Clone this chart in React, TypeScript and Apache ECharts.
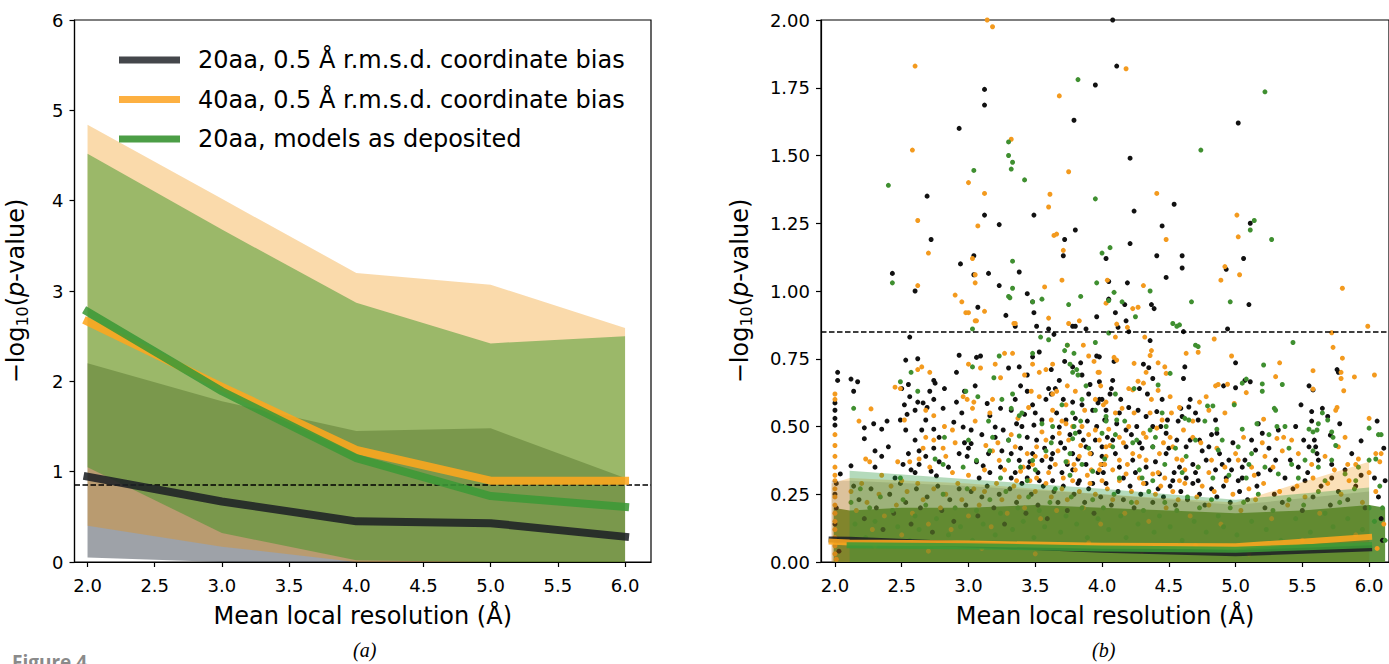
import React, { useEffect, useRef } from "react";
import * as echarts from "echarts";

// ---------- Panel (a): binned summaries ----------
const binsA = [2.0, 3.0, 4.0, 5.0, 6.0];
const medBiased20 = [0.945, 0.67, 0.45, 0.43, 0.28];
const medBiased40 = [2.66, 1.94, 1.24, 0.9, 0.9];
const medDeposited20 = [2.77, 1.89, 1.15, 0.73, 0.61];
const lowBiased20 = [0.05, 0.0, 0.0, 0.0, 0.0];
const highBiased20 = [2.2, 1.78, 1.45, 1.48, 0.93];
const lowBiased40 = [0.4, 0.17, 0.0, 0.0, 0.0];
const highBiased40 = [4.84, 4.02, 3.2, 3.07, 2.59];
const lowDeposited20 = [1.05, 0.32, 0.02, 0.0, 0.0];
const highDeposited20 = [4.52, 3.68, 2.87, 2.42, 2.5];
const significance = 0.85;

// ---------- Panel (b): binned summaries ----------
const binsB = [1.975, 2.11, 3.0, 4.0, 5.0, 6.0];
const binsBDep = [2.11, 3.0, 4.0, 5.0, 6.0];
const medB20 = [0.083, 0.082, 0.065, 0.045, 0.032, 0.05];
const medB40 = [0.075, 0.072, 0.068, 0.06, 0.058, 0.092];
const medBDep = [0.062, 0.058, 0.05, 0.045, 0.062];
const highB20 = [0.3, 0.3, 0.28, 0.25, 0.21, 0.26];
const highB40 = [0.29, 0.31, 0.29, 0.25, 0.22, 0.37];
const highBDep = [0.337, 0.305, 0.27, 0.23, 0.275];
const cloudBins = [1.99, 2.11, 2.5, 3.0, 3.5, 4.0, 4.5, 5.0, 5.5, 6.0, 6.12];
const cloudTop = [0.2, 0.19, 0.2, 0.2, 0.21, 0.2, 0.19, 0.18, 0.19, 0.21, 0.2];

// ---------- Panel (b): individual points (x, y pairs) ----------
const blackHigh = [2.43,1.065, 2.6,1.0, 2.69,1.35, 2.72,1.19, 2.93,1.6, 2.94,1.1, 3.04,1.13, 3.04,1.06, 3.07,0.94, 3.12,1.744, 3.12,1.686, 3.12,1.28, 3.15,1.065, 3.23,1.245, 3.23,1.02, 3.28,0.91, 3.38,1.07, 3.44,0.99, 3.48,0.96, 3.49,0.92, 3.49,1.28, 3.71,1.13, 3.72,1.19, 3.78,0.87, 3.79,1.63, 3.8,1.225, 3.95,1.76, 3.96,0.905, 4.03,1.12, 4.05,1.035, 4.05,0.97, 4.08,2.0, 4.1,0.92, 4.11,1.83, 4.17,0.95, 4.18,0.89, 4.19,1.03, 4.21,1.49, 4.21,1.175, 4.24,1.295, 4.37,0.95, 4.39,0.935, 4.41,1.13, 4.45,1.24, 4.48,1.05, 4.54,1.32, 4.6,1.13, 4.6,1.085, 4.93,1.08, 5.02,1.62, 5.06,1.12, 5.1,0.95, 5.11,1.25, 3.35,0.87, 3.51,0.87, 3.6,0.86, 3.64,0.84, 3.8,0.87, 3.88,0.86, 4.12,0.866, 4.2,0.85, 4.61,0.85, 4.94,0.86];
const blackMid = [2.02,0.7, 2.02,0.67, 2.0,0.587, 2.0,0.56, 2.0,0.53, 2.0,0.505, 2.12,0.675, 2.17,0.665, 2.14,0.63, 2.22,0.495, 2.29,0.51, 2.35,0.49, 2.39,0.52, 2.22,0.455, 2.3,0.41, 2.35,0.39, 2.4,0.425, 2.12,0.355, 2.04,0.325, 2.56,0.83, 2.53,0.745, 2.62,0.75, 2.5,0.64, 2.55,0.655, 2.56,0.61, 2.52,0.58, 2.54,0.545, 2.49,0.524, 2.62,0.59, 2.6,0.56, 2.66,0.587, 2.68,0.524, 2.65,0.487, 2.74,0.67, 2.75,0.66, 2.71,0.63, 2.74,0.6, 2.69,0.57, 2.81,0.567, 2.74,0.49, 2.78,0.46, 2.53,0.487, 2.6,0.45, 2.63,0.41, 2.55,0.4, 2.51,0.36, 2.57,0.34, 2.63,0.36, 2.68,0.39, 2.74,0.42, 2.72,0.335, 2.78,0.37, 2.76,0.318, 2.91,0.7, 2.93,0.763, 3.06,0.755, 3.09,0.76, 2.97,0.63, 2.91,0.59, 2.82,0.64, 2.89,0.516, 2.96,0.498, 3.02,0.487, 3.02,0.437, 2.97,0.44, 2.93,0.4, 2.99,0.39, 3.06,0.37, 3.11,0.355, 3.16,0.33, 3.08,0.31, 3.14,0.585, 3.16,0.54, 3.24,0.567, 3.2,0.498, 3.26,0.487, 3.2,0.46, 3.3,0.716, 3.38,0.72, 3.44,0.69, 3.48,0.757, 3.53,0.775, 3.39,0.65, 3.44,0.63, 3.48,0.58, 3.35,0.6, 3.32,0.56, 3.42,0.545, 3.36,0.51, 3.49,0.505, 3.55,0.524, 3.6,0.64, 3.62,0.62, 3.65,0.64, 3.62,0.71, 3.68,0.67, 3.72,0.74, 3.78,0.72, 3.84,0.735, 3.85,0.69, 3.91,0.655, 3.96,0.76, 3.97,0.587, 3.78,0.59, 3.85,0.58, 3.93,0.56, 4.03,0.524, 4.0,0.6, 3.73,0.524, 3.68,0.498, 3.83,0.48, 3.89,0.52, 3.63,0.46, 3.51,0.45, 3.44,0.46, 3.39,0.42, 3.48,0.4, 3.32,0.4, 3.38,0.375, 3.45,0.35, 3.55,0.375, 3.63,0.4, 3.72,0.42, 3.78,0.4, 3.88,0.425, 3.95,0.45, 4.0,0.39, 3.61,0.35, 3.7,0.33, 3.78,0.34, 3.88,0.36, 3.97,0.33, 3.24,0.35, 3.32,0.31, 3.44,0.31, 3.53,0.3, 3.63,0.3, 3.83,0.3, 3.93,0.29];
const blackMidRight = [4.36,0.817, 3.98,0.757, 4.09,0.74, 4.31,0.73, 4.35,0.717, 5.0,0.735, 4.62,0.72, 4.38,0.677, 4.61,0.677, 4.08,0.67, 3.98,0.665, 4.07,0.64, 3.98,0.6, 4.28,0.64, 4.45,0.6, 4.66,0.6, 5.0,0.643, 5.07,0.67, 5.11,0.665, 4.91,0.65, 5.55,0.65, 5.58,0.635, 5.76,0.71, 5.77,0.7, 5.49,0.58, 5.57,0.555, 5.65,0.567, 5.69,0.537, 5.57,0.52, 5.45,0.5, 5.78,0.51, 5.94,0.447, 5.71,0.468, 5.59,0.45, 5.55,0.425, 5.6,0.425, 5.61,0.4, 5.51,0.45, 5.32,0.487, 5.2,0.475, 5.15,0.413, 5.07,0.376, 5.05,0.35, 5.17,0.325, 5.26,0.34, 5.3,0.376, 5.41,0.376, 5.47,0.35, 5.54,0.33, 5.62,0.376, 5.72,0.36, 5.82,0.34, 5.87,0.4, 5.94,0.32, 5.17,0.51, 4.85,0.524, 4.86,0.475, 4.72,0.524, 4.7,0.55, 4.65,0.572, 4.59,0.567, 4.6,0.537, 4.49,0.524, 4.41,0.555, 4.33,0.537, 4.27,0.56, 4.2,0.57, 4.13,0.55, 4.03,0.56, 4.02,0.524, 4.11,0.51, 4.18,0.487, 4.26,0.5, 4.38,0.5, 4.48,0.475, 4.56,0.45, 4.63,0.425, 4.73,0.45, 4.8,0.425, 4.78,0.376, 4.88,0.4, 4.95,0.376, 4.97,0.34, 4.85,0.34, 4.68,0.36, 4.58,0.35, 4.48,0.4, 4.38,0.425, 4.28,0.44, 4.18,0.425, 4.08,0.45, 4.0,0.425, 4.0,0.36, 4.13,0.35, 4.23,0.376, 4.33,0.35, 4.43,0.325, 4.53,0.3, 4.63,0.31, 4.72,0.3, 4.93,0.31, 5.02,0.3, 5.37,0.31, 5.52,0.3, 5.72,0.31];
const blackCore = [3.3,0.45, 3.35,0.33, 3.4,0.5, 3.46,0.37, 3.5,0.55, 3.52,0.33, 3.57,0.42, 3.58,0.6, 3.62,0.38, 3.66,0.55, 3.69,0.44, 3.71,0.6, 3.74,0.36, 3.76,0.47, 3.8,0.53, 3.82,0.38, 3.86,0.45, 3.9,0.62, 3.92,0.4, 3.96,0.5, 4.01,0.33, 4.04,0.46, 4.06,0.62, 4.1,0.4, 4.14,0.6, 4.16,0.31, 4.22,0.47, 4.25,0.33, 4.3,0.42, 4.34,0.62, 4.4,0.37, 4.44,0.5, 4.5,0.42, 4.54,0.33, 4.57,0.52, 4.66,0.45, 4.7,0.33, 4.75,0.41, 4.82,0.47, 4.9,0.36, 4.98,0.44, 5.05,0.31, 5.12,0.45, 5.25,0.42, 2.45,0.31, 2.6,0.33, 2.85,0.35, 3.0,0.42, 3.1,0.47, 3.15,0.4, 3.25,0.41, 2.3,0.35, 2.95,0.55, 3.05,0.65];
const blackLow = [2.01,0.29, 2.0,0.25, 2.01,0.2, 2.0,0.14, 2.02,0.08, 2.14,0.28, 2.18,0.23, 2.22,0.16, 2.27,0.27, 2.31,0.2, 2.36,0.12, 2.41,0.25, 2.44,0.18, 2.49,0.29, 2.53,0.22, 2.57,0.14, 2.61,0.27, 2.64,0.2, 2.69,0.24, 2.73,0.11, 2.77,0.28, 2.8,0.19, 2.86,0.23, 2.89,0.15, 2.93,0.27, 2.98,0.21, 3.02,0.26, 3.07,0.17, 3.1,0.24, 3.14,0.28, 3.19,0.2, 3.23,0.25, 3.27,0.14, 3.31,0.27, 3.36,0.22, 3.4,0.29, 3.43,0.18, 3.47,0.25, 3.52,0.21, 3.56,0.28, 3.59,0.16, 3.64,0.26, 3.67,0.22, 3.71,0.28, 3.74,0.19, 3.79,0.25, 3.82,0.29, 3.87,0.22, 3.9,0.27, 3.94,0.18, 3.99,0.24, 4.03,0.29, 4.07,0.21, 4.12,0.26, 4.16,0.23, 4.21,0.28, 4.24,0.2, 4.29,0.25, 4.33,0.29, 4.38,0.22, 4.42,0.27, 4.46,0.24, 4.51,0.28, 4.55,0.21, 4.59,0.26, 4.64,0.23, 4.68,0.29, 4.73,0.25, 4.77,0.21, 4.82,0.27, 4.86,0.24, 4.91,0.28, 4.96,0.22, 5.03,0.26, 5.09,0.23, 5.16,0.28, 5.22,0.2, 5.29,0.25, 5.35,0.22, 5.43,0.27, 5.5,0.19, 5.58,0.24, 5.64,0.28, 5.71,0.21, 5.77,0.26, 5.84,0.23, 5.9,0.28, 5.97,0.2, 6.04,0.31, 6.07,0.24, 6.09,0.16, 6.11,0.42, 6.06,0.52, 6.1,0.08, 2.03,0.04, 6.12,0.3];

const orangeHigh = [2.58,1.52, 2.6,1.83, 2.62,1.26, 2.62,1.02, 2.7,1.14, 2.9,0.985, 2.95,0.96, 2.98,0.92, 3.0,0.92, 3.0,1.4, 3.03,1.12, 3.05,1.06, 3.05,1.03, 3.05,0.89, 3.07,1.24, 3.12,1.36, 3.12,0.925, 3.14,2.0, 3.18,1.975, 3.32,1.56, 3.35,0.88, 3.57,1.015, 3.6,0.9, 3.61,1.357, 3.6,1.31, 3.64,1.205, 3.66,1.21, 3.68,1.72, 3.7,1.04, 3.71,1.15, 3.75,1.44, 3.75,0.88, 3.83,0.89, 4.03,0.955, 4.04,1.04, 4.18,1.82, 4.23,0.935, 4.27,0.94, 4.31,1.02, 4.41,1.36, 4.48,1.19, 4.89,1.04, 4.92,1.09, 5.01,1.28, 5.02,1.2, 5.03,1.06, 5.8,1.01, 5.99,0.87, 3.06,0.89, 3.34,0.88, 4.11,0.878, 4.19,0.866];
const orangeMid = [2.0,0.62, 2.0,0.6, 2.0,0.47, 2.0,0.43, 2.0,0.39, 2.0,0.35, 2.0,0.32, 2.18,0.52, 2.27,0.565, 2.23,0.38, 2.26,0.37, 2.45,0.645, 2.49,0.64, 2.62,0.71, 2.65,0.72, 2.71,0.7, 2.52,0.524, 2.68,0.56, 2.74,0.54, 2.82,0.5, 2.74,0.45, 2.81,0.42, 2.66,0.42, 2.63,0.38, 2.56,0.37, 2.47,0.37, 2.71,0.35, 2.83,0.39, 2.88,0.487, 2.96,0.61, 2.99,0.6, 3.04,0.59, 3.03,0.567, 3.0,0.73, 3.09,0.716, 3.2,0.73, 3.27,0.77, 3.33,0.77, 3.24,0.68, 3.18,0.6, 3.16,0.55, 3.48,0.73, 3.53,0.7, 3.58,0.71, 3.63,0.73, 3.42,0.69, 3.47,0.63, 3.53,0.61, 3.66,0.63, 3.74,0.65, 3.8,0.63, 3.74,0.8, 3.86,0.8, 3.9,0.76, 3.94,0.74, 3.97,0.7, 3.99,0.65, 4.01,0.58, 3.73,0.58, 3.63,0.56, 3.62,0.524, 3.73,0.51, 3.78,0.5, 3.85,0.5, 3.9,0.47, 3.95,0.487, 3.68,0.475, 3.58,0.45, 3.51,0.425, 3.44,0.4, 3.35,0.425, 3.23,0.375, 3.18,0.41, 3.13,0.43, 3.27,0.34, 3.39,0.335, 3.48,0.36, 3.58,0.39, 3.65,0.36, 3.74,0.37, 3.83,0.39, 3.91,0.4, 3.99,0.36, 4.03,0.425, 3.8,0.34, 3.71,0.31, 3.89,0.32, 4.0,0.3, 3.51,0.31, 3.36,0.3, 2.88,0.33, 3.0,0.32];
const orangeMidRight = [4.1,0.83, 4.32,0.83, 4.84,0.823, 5.72,0.846, 5.73,0.792, 5.8,0.752, 4.37,0.78, 4.36,0.762, 4.09,0.755, 4.11,0.745, 4.24,0.733, 4.42,0.735, 4.47,0.72, 4.72,0.774, 4.63,0.77, 4.97,0.76, 5.33,0.735, 5.58,0.706, 5.79,0.7, 5.79,0.677, 5.89,0.683, 6.04,0.69, 3.98,0.7, 4.33,0.7, 4.48,0.696, 4.27,0.667, 4.31,0.66, 4.85,0.65, 4.87,0.655, 4.94,0.656, 5.3,0.684, 5.81,0.632, 5.58,0.638, 5.08,0.625, 4.78,0.61, 4.51,0.61, 4.2,0.64, 4.23,0.635, 4.42,0.633, 4.58,0.57, 4.73,0.59, 4.8,0.56, 4.99,0.585, 5.21,0.527, 5.42,0.45, 5.31,0.456, 5.75,0.56, 5.76,0.57, 6.0,0.53, 5.82,0.46, 5.77,0.425, 5.67,0.39, 5.47,0.4, 5.35,0.41, 5.22,0.39, 6.05,0.4, 6.09,0.4, 5.92,0.38, 5.84,0.36, 5.57,0.36, 5.12,0.35, 5.02,0.376, 4.92,0.35, 4.82,0.376, 4.72,0.35, 4.6,0.376, 4.53,0.425, 4.43,0.4, 4.33,0.376, 4.23,0.4, 4.13,0.376, 4.03,0.39, 3.98,0.34, 4.08,0.34, 4.18,0.325, 4.28,0.31, 4.38,0.325, 4.47,0.31, 4.58,0.3, 4.05,0.49, 4.13,0.46, 4.2,0.5, 4.31,0.475, 4.41,0.494, 4.51,0.46, 4.61,0.487, 4.68,0.46, 4.03,0.59, 4.15,0.567, 4.36,0.55, 4.45,0.524];
const orangeCore = [3.32,0.47, 3.37,0.53, 3.41,0.35, 3.45,0.57, 3.5,0.39, 3.55,0.48, 3.6,0.33, 3.63,0.62, 3.67,0.41, 3.7,0.52, 3.75,0.45, 3.79,0.36, 3.84,0.43, 3.87,0.56, 3.92,0.34, 3.95,0.6, 3.98,0.45, 4.02,0.36, 4.06,0.43, 4.1,0.55, 4.16,0.44, 4.19,0.36, 4.24,0.55, 4.28,0.39, 4.33,0.46, 4.37,0.6, 4.42,0.33, 4.46,0.44, 4.52,0.55, 4.56,0.38, 4.62,0.34, 4.68,0.52, 4.74,0.44, 4.8,0.33, 4.86,0.42, 4.92,0.55, 5.0,0.4, 5.06,0.46, 5.14,0.32, 5.2,0.44, 5.28,0.35, 5.36,0.46, 2.5,0.3, 2.68,0.46, 2.9,0.44, 3.05,0.52, 3.12,0.34, 3.22,0.44, 2.35,0.32];
const orangeLow = [2.0,0.3, 2.0,0.27, 2.0,0.24, 2.0,0.21, 2.0,0.18, 2.0,0.15, 2.0,0.12, 2.0,0.09, 2.0,0.06, 2.0,0.03, 2.01,0.01, 2.12,0.26, 2.16,0.19, 2.2,0.29, 2.24,0.22, 2.28,0.12, 2.33,0.25, 2.37,0.17, 2.42,0.28, 2.46,0.21, 2.5,0.1, 2.54,0.26, 2.58,0.18, 2.62,0.29, 2.66,0.23, 2.7,0.14, 2.74,0.27, 2.79,0.2, 2.83,0.25, 2.87,0.12, 2.92,0.29, 2.95,0.23, 3.0,0.17, 3.04,0.27, 3.08,0.21, 3.12,0.26, 3.17,0.13, 3.21,0.29, 3.25,0.23, 3.29,0.18, 3.34,0.28, 3.38,0.24, 3.42,0.2, 3.46,0.3, 3.5,0.26, 3.54,0.16, 3.58,0.29, 3.62,0.24, 3.66,0.19, 3.7,0.27, 3.74,0.23, 3.78,0.3, 3.83,0.26, 3.86,0.2, 3.91,0.29, 3.95,0.25, 3.99,0.14, 4.04,0.27, 4.08,0.23, 4.13,0.3, 4.17,0.18, 4.22,0.26, 4.26,0.22, 4.31,0.29, 4.35,0.15, 4.4,0.25, 4.44,0.28, 4.48,0.2, 4.53,0.26, 4.57,0.23, 4.62,0.29, 4.66,0.17, 4.71,0.24, 4.75,0.28, 4.8,0.21, 4.84,0.26, 4.89,0.14, 4.93,0.3, 4.98,0.25, 5.04,0.19, 5.1,0.27, 5.15,0.23, 5.21,0.29, 5.27,0.16, 5.33,0.26, 5.39,0.21, 5.46,0.28, 5.52,0.24, 5.58,0.31, 5.63,0.18, 5.69,0.29, 5.74,0.34, 5.79,0.25, 5.85,0.3, 5.9,0.36, 5.95,0.22, 6.0,0.33, 6.05,0.26, 6.08,0.37, 6.11,0.14, 6.06,0.05, 2.3,0.06, 3.1,0.05, 3.9,0.07, 4.7,0.06, 5.5,0.08, 2.7,0.04, 3.5,0.03, 4.3,0.04, 5.1,0.03, 5.9,0.1];

const greenHigh = [2.4,1.39, 2.43,1.03, 3.03,0.86, 3.04,1.445, 3.3,1.55, 3.3,1.5, 3.33,1.475, 3.32,1.45, 3.42,1.41, 3.33,1.11, 3.3,0.98, 3.31,0.975, 3.33,1.01, 3.48,0.96, 3.55,0.97, 3.75,0.95, 3.82,1.78, 3.84,0.98, 3.95,1.34, 3.96,1.03, 4.0,1.14, 4.06,1.16, 4.09,0.995, 4.05,0.965, 4.15,0.96, 4.25,0.905, 4.36,1.0, 4.53,0.88, 4.56,0.87, 4.58,0.875, 4.67,0.96, 4.74,1.52, 4.96,0.96, 5.11,1.225, 5.14,1.26, 5.22,1.735, 5.27,1.19];
const greenMid = [2.14,0.567, 2.49,0.665, 2.57,0.7, 2.62,0.63, 2.82,0.46, 2.81,0.36, 2.98,0.63, 3.07,0.61, 3.03,0.72, 3.23,0.76, 3.19,0.68, 3.25,0.6, 3.33,0.62, 3.32,0.567, 3.38,0.54, 3.48,0.77, 3.54,0.83, 3.6,0.82, 3.72,0.78, 3.74,0.8, 3.79,0.77, 3.76,0.73, 3.81,0.71, 3.78,0.7, 3.82,0.69, 3.88,0.65, 3.85,0.6, 3.78,0.55, 3.55,0.51, 3.63,0.5, 3.79,0.5, 3.8,0.475, 3.78,0.455, 3.38,0.465, 3.3,0.45, 3.18,0.46, 3.16,0.41, 3.06,0.375, 2.96,0.35, 3.3,0.375, 3.39,0.35, 3.48,0.375, 3.58,0.41, 3.76,0.4, 3.85,0.36, 3.93,0.335, 4.0,0.475, 4.03,0.52, 3.95,0.81, 3.76,0.32, 3.44,0.3, 3.24,0.31, 2.49,0.31];
const greenMidRight = [4.05,0.845, 4.7,0.8, 4.72,0.795, 5.43,0.81, 5.21,0.727, 4.51,0.696, 4.42,0.653, 4.24,0.64, 5.05,0.66, 5.08,0.675, 5.2,0.657, 5.2,0.63, 5.35,0.655, 4.1,0.62, 4.83,0.576, 4.79,0.576, 4.99,0.58, 5.29,0.567, 5.3,0.56, 5.65,0.55, 5.69,0.524, 5.62,0.51, 5.61,0.487, 5.58,0.48, 5.72,0.48, 5.73,0.46, 5.55,0.49, 6.0,0.494, 6.07,0.47, 5.37,0.5, 5.31,0.5, 5.16,0.51, 5.05,0.49, 4.86,0.49, 4.65,0.524, 4.62,0.53, 4.48,0.5, 4.36,0.487, 4.11,0.524, 4.03,0.537, 4.08,0.425, 4.23,0.44, 4.38,0.425, 4.47,0.36, 4.63,0.39, 4.72,0.35, 4.87,0.413, 5.02,0.425, 5.12,0.4, 5.22,0.35, 5.32,0.325, 5.42,0.36, 5.52,0.376, 5.62,0.35, 5.72,0.376, 5.82,0.325, 5.92,0.35, 6.0,0.376, 4.28,0.34, 4.13,0.31, 4.38,0.3, 4.83,0.31, 5.08,0.31, 5.47,0.31, 5.67,0.3];
const greenCore = [3.4,0.55, 3.5,0.34, 3.62,0.44, 3.7,0.58, 3.73,0.37, 3.84,0.52, 3.9,0.42, 3.95,0.56, 4.02,0.38, 4.1,0.47, 4.17,0.52, 4.26,0.45, 4.3,0.31, 4.4,0.46, 4.45,0.55, 4.55,0.42, 4.6,0.33, 4.7,0.45, 4.77,0.52, 4.9,0.45, 4.95,0.32, 5.1,0.36, 5.25,0.47, 5.4,0.42, 5.58,0.41, 5.75,0.43, 5.9,0.3, 3.15,0.52, 3.0,0.45, 2.75,0.38];
const greenLow = [2.12,0.22, 2.15,0.14, 2.19,0.27, 2.23,0.09, 2.26,0.2, 2.3,0.15, 2.34,0.24, 2.38,0.07, 2.43,0.19, 2.47,0.13, 2.51,0.23, 2.56,0.08, 2.6,0.17, 2.63,0.12, 2.68,0.21, 2.72,0.06, 2.76,0.16, 2.81,0.25, 2.85,0.1, 2.9,0.2, 2.94,0.13, 2.99,0.27, 3.03,0.08, 3.06,0.19, 3.11,0.14, 3.16,0.23, 3.2,0.1, 3.24,0.18, 3.28,0.26, 3.33,0.12, 3.37,0.2, 3.41,0.15, 3.45,0.24, 3.49,0.09, 3.53,0.19, 3.57,0.13, 3.61,0.22, 3.65,0.27, 3.69,0.11, 3.73,0.17, 3.77,0.24, 3.81,0.14, 3.85,0.2, 3.89,0.09, 3.93,0.23, 3.97,0.16, 4.01,0.2, 4.05,0.12, 4.09,0.25, 4.14,0.17, 4.18,0.09, 4.22,0.22, 4.27,0.14, 4.31,0.19, 4.35,0.26, 4.39,0.11, 4.43,0.17, 4.47,0.22, 4.51,0.13, 4.56,0.19, 4.6,0.08, 4.64,0.24, 4.69,0.15, 4.73,0.2, 4.78,0.11, 4.82,0.23, 4.87,0.17, 4.91,0.13, 4.96,0.2, 5.01,0.1, 5.06,0.22, 5.12,0.15, 5.17,0.25, 5.23,0.12, 5.28,0.19, 5.34,0.08, 5.4,0.23, 5.45,0.16, 5.51,0.21, 5.56,0.11, 5.62,0.26, 5.67,0.18, 5.73,0.13, 5.78,0.22, 5.84,0.16, 5.89,0.27, 5.95,0.12, 6.0,0.2, 6.04,0.15, 6.08,0.28, 6.1,0.2, 6.12,0.08, 6.05,0.38, 6.09,0.47];

// ---------- Axis ticks and labels ----------
const xTicks = [2.0, 2.5, 3.0, 3.5, 4.0, 4.5, 5.0, 5.5, 6.0];
const legendNames = [
  "20aa, 0.5 Å r.m.s.d. coordinate bias",
  "40aa, 0.5 Å r.m.s.d. coordinate bias",
  "20aa, models as deposited",
];
const xTitle = "Mean local resolution (Å)";

const C_BLACK = "rgba(30,33,37,0.88)";
const C_ORANGE = "rgba(253,166,30,0.88)";
const C_GREEN = "rgba(60,152,55,0.88)";
const LEG_BLACK = "#44474b";
const LEG_ORANGE = "#fdb041";
const LEG_GREEN = "#4c9e46";
const FONT = "DejaVu Sans";

const pairs = (flat: number[]) => {
  const out: number[][] = [];
  for (let i = 0; i + 1 < flat.length; i += 2) out.push([flat[i], flat[i + 1]]);
  return out;
};
const zip = (xs: number[], ys: number[]) => xs.map((x, i) => [x, ys[i]]);
const zeros = (n: number) => new Array(n).fill(0);

function band(name: string, idx: number, xs: number[], lo: number[], hi: number[], fill: string, z: number) {
  return {
    type: "custom",
    name,
    xAxisIndex: idx,
    yAxisIndex: idx,
    z,
    silent: true,
    data: [[xs[0], hi[0]]],
    encode: { x: 0, y: 1 },
    renderItem: (_p: any, api: any) => {
      const top = xs.map((x, i) => api.coord([x, hi[i]]));
      const bottom = xs.map((x, i) => api.coord([x, lo[i]])).reverse();
      return { type: "polygon", shape: { points: top.concat(bottom) }, style: { fill } };
    },
  };
}

function line(name: string, idx: number, xs: number[], ys: number[], color: string, width: number, z: number) {
  return {
    type: "line",
    name,
    xAxisIndex: idx,
    yAxisIndex: idx,
    data: zip(xs, ys),
    color,
    symbol: "none",
    z,
    silent: true,
    lineStyle: { color, width, cap: "square", join: "round" },
  };
}

function scatter(name: string, flat: number[], color: string, z: number) {
  return {
    type: "scatter",
    name,
    xAxisIndex: 1,
    yAxisIndex: 1,
    data: pairs(flat),
    symbolSize: 5,
    itemStyle: { color, opacity: 1 },
    z,
    silent: true,
  };
}

function threshold(name: string, idx: number) {
  return {
    type: "line",
    name,
    xAxisIndex: idx,
    yAxisIndex: idx,
    data: [],
    z: 9,
    markLine: {
      silent: true,
      symbol: "none",
      label: { show: false },
      lineStyle: { color: "#000", width: 1.6, type: [5.5, 2.5] },
      data: [{ yAxis: significance }],
    },
  };
}

const xAxisBase = (min: number, max: number, idx: number) => ({
  type: "value",
  gridIndex: idx,
  min,
  max,
  splitLine: { show: false },
  axisLine: { show: true, onZero: false, lineStyle: { color: "#000", width: 1.2 } },
  axisTick: { show: true, customValues: xTicks, length: 5, lineStyle: { color: "#000", width: 1.2 } },
  axisLabel: {
    customValues: xTicks,
    formatter: (v: number) => v.toFixed(1),
    fontSize: 18,
    fontFamily: FONT,
    color: "#000",
    margin: 14,
  },
  name: xTitle,
  nameLocation: "middle",
  nameGap: 42,
  nameTextStyle: { fontSize: 24, fontFamily: FONT, color: "#000" },
});

const yName = "{a|−log}{s|10}{a|(}{i|p}{a|-value)}";
const yRich = {
  a: { fontSize: 24, fontFamily: FONT, color: "#000", lineHeight: 30, verticalAlign: "middle" },
  s: { fontSize: 16, fontFamily: FONT, color: "#000", lineHeight: 30, padding: [13, 0, 0, 0], verticalAlign: "middle" },
  i: { fontSize: 24, fontFamily: FONT, fontStyle: "italic", color: "#000", lineHeight: 30, verticalAlign: "middle" },
};

const yAxisBase = (max: number, interval: number, idx: number, digits: number, gap: number) => ({
  type: "value",
  gridIndex: idx,
  min: 0,
  max,
  interval,
  splitLine: { show: false },
  axisLine: { show: true, lineStyle: { color: "#000", width: 1.2 } },
  axisTick: { show: true, length: 5, lineStyle: { color: "#000", width: 1.2 } },
  axisLabel: {
    formatter: (v: number) => v.toFixed(digits),
    fontSize: 18,
    fontFamily: FONT,
    color: "#000",
    margin: 11,
  },
  name: yName,
  nameLocation: "middle",
  nameGap: gap,
  nameRotate: 90,
  nameTextStyle: { rich: yRich },
});

export default function App() {
  const ref = useRef<HTMLDivElement>(null);
  useEffect(() => {
    const chart = echarts.init(ref.current!, null, { renderer: "svg" });
    const option: any = {
      animation: false,
      backgroundColor: "#fff",
      grid: [
        { left: 74, top: 20, width: 577, height: 542, show: true, borderColor: "#000", borderWidth: 1.2, backgroundColor: "transparent" },
        { left: 821, top: 20, width: 570, height: 542, show: true, borderColor: "#000", borderWidth: 1.2, backgroundColor: "transparent" },
      ],
      xAxis: [xAxisBase(1.903, 6.193, 0), xAxisBase(1.8955, 6.149, 1)],
      yAxis: [yAxisBase(6, 1, 0, 0, 44), yAxisBase(2, 0.25, 1, 2, 66)],
      legend: {
        data: [
          { name: legendNames[0], itemStyle: { color: LEG_BLACK } },
          { name: legendNames[1], itemStyle: { color: LEG_ORANGE } },
          { name: legendNames[2], itemStyle: { color: LEG_GREEN } },
        ],
        orient: "vertical",
        left: 107,
        top: 32,
        icon: "rect",
        itemWidth: 61,
        itemHeight: 7,
        itemGap: 9.5,
        selectedMode: false,
        z: 60,
        padding: [13, 12, 11, 12],
        textStyle: { fontSize: 24, fontFamily: FONT, color: "#000", lineHeight: 30, padding: [0, 0, 0, 13] },
      },
      graphic: [
        {
          type: "rect",
          z: 50,
          silent: true,
          shape: { x: 192, y: 32, width: 450, height: 129, r: 3 },
          style: { fill: "rgba(255,255,255,0.85)" },
        },
        { type: "text", left: 353, top: 640, style: { text: "(a)", font: 'italic 20px "Liberation Serif"', fill: "#000" } },
        { type: "text", left: 1092, top: 640, style: { text: "(b)", font: 'italic 20px "Liberation Serif"', fill: "#000" } },
        { type: "text", left: 12, top: 652, style: { text: "Figure 4", font: 'bold 19px "Open Sans"', fill: "#8a8a8a" } },
      ],
      series: [
        // ----- panel (a) -----
        band("band20biased", 0, binsA, lowBiased20, highBiased20, "rgba(39,48,62,0.45)", 1),
        band("band40biased", 0, binsA, lowBiased40, highBiased40, "rgba(240,143,0,0.33)", 2),
        band("band20deposited", 0, binsA, lowDeposited20, highDeposited20, "rgba(60,150,40,0.5)", 3),
        line(legendNames[0], 0, binsA, medBiased20, C_BLACK, 8, 6),
        line(legendNames[1], 0, binsA, medBiased40, C_ORANGE, 8, 6),
        line(legendNames[2], 0, binsA, medDeposited20, C_GREEN, 8, 7),
        threshold("thresholdA", 0),
        // ----- panel (b) -----
        band("cloudB", 1, cloudBins, zeros(cloudBins.length), cloudTop, "#62953f", 1),
        scatter("pts20biasedHigh", blackHigh, "#111", 2),
        scatter("pts20biasedMid", blackMid, "#111", 2),
        scatter("pts20biasedMidR", blackMidRight, "#111", 2),
        scatter("pts20biasedCore", blackCore, "#111", 2),
        scatter("pts20biasedLow", blackLow, "#111", 2),
        scatter("pts40biasedHigh", orangeHigh, "#f39a1e", 3),
        scatter("pts40biasedMid", orangeMid, "#f39a1e", 3),
        scatter("pts40biasedMidR", orangeMidRight, "#f39a1e", 3),
        scatter("pts40biasedCore", orangeCore, "#f39a1e", 3),
        scatter("pts40biasedLow", orangeLow, "#f39a1e", 3),
        scatter("ptsDepHigh", greenHigh, "#3f8f30", 4),
        scatter("ptsDepMid", greenMid, "#3f8f30", 4),
        scatter("ptsDepMidR", greenMidRight, "#3f8f30", 4),
        scatter("ptsDepCore", greenCore, "#3f8f30", 4),
        scatter("ptsDepLow", greenLow, "#3f8f30", 4),
        band("bandB20", 1, binsB, zeros(binsB.length), highB20, "rgba(39,48,62,0.2)", 5),
        band("bandB40", 1, binsB, zeros(binsB.length), highB40, "rgba(240,143,0,0.28)", 5),
        band("bandBDep", 1, binsBDep, zeros(binsBDep.length), highBDep, "rgba(40,150,60,0.35)", 5),
        line("med20biasedB", 1, binsB, medB20, C_BLACK, 6, 6),
        line("med40biasedB", 1, binsB, medB40, C_ORANGE, 6, 6),
        line("medDepB", 1, binsBDep, medBDep, C_GREEN, 6, 7),
        threshold("thresholdB", 1),
      ],
    };
    chart.setOption(option);
    return () => chart.dispose();
  }, []);
  return (
    <div
      ref={ref}
      style={{ position: "fixed", left: 0, top: 0, width: 1389, height: 664, background: "#fff" }}
    />
  );
}
